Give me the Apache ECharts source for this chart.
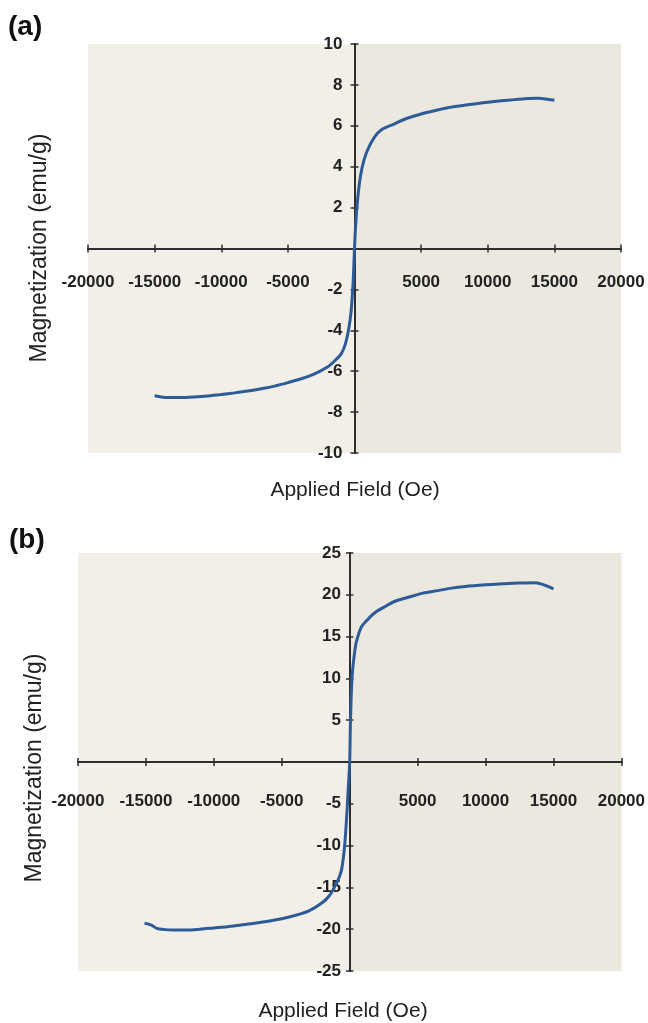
<!DOCTYPE html>
<html>
<head>
<meta charset="utf-8">
<script src="https://cdn.jsdelivr.net/npm/echarts@6/dist/echarts.min.js"></script>
<style>
  html, body { margin: 0; padding: 0; background: #ffffff; }
  #chart { width: 648px; height: 1023px; }
</style>
</head>
<body>
<div id="chart"></div>
<script>
// Panel (a): magnetization curve, field in Oe, magnetization in emu/g
const fieldA = [-15000, -14500, -14000, -13000, -12000, -11000, -10000, -9000, -8000, -7000,
  -6000, -5000, -4000, -3000, -2000, -1500, -1000, -700, -450, -250, -100, 0,
  100, 250, 450, 700, 1000, 1500, 2000, 3000, 4000, 5000, 6000, 7000, 8000, 9000,
  10000, 11000, 12000, 13000, 13800, 14500, 15000];
const magA = [-7.2, -7.26, -7.29, -7.29, -7.26, -7.21, -7.14, -7.06, -6.97, -6.86,
  -6.73, -6.56, -6.37, -6.13, -5.78, -5.5, -5.15, -4.7, -4.0, -3.05, -1.6, 0,
  1.3, 2.5, 3.55, 4.3, 4.85, 5.45, 5.8, 6.1, 6.38, 6.58, 6.74, 6.88, 6.98, 7.07,
  7.15, 7.22, 7.28, 7.33, 7.35, 7.3, 7.25];

// Panel (b)
const fieldB = [-15100, -14600, -14200, -13600, -13000, -12000, -11000, -10000, -9000, -8000,
  -7000, -6000, -5000, -4000, -3000, -2000, -1500, -1100, -800, -600, -400, -250, -100, 0,
  60, 180, 420, 600, 880, 1300, 1800, 2500, 3300, 4300, 5400, 6500, 7500, 8500,
  10000, 11000, 12400, 13600, 14200, 14600, 15000];
const magB = [-19.3, -19.5, -19.9, -20.05, -20.1, -20.1, -20.0, -19.85, -19.7, -19.5,
  -19.3, -19.05, -18.75, -18.35, -17.8, -16.8, -16.0, -14.9, -13.9, -12.9, -10.5, -7.3, -3.0, 0,
  5.0, 10.2, 13.8, 15.0, 16.2, 17.0, 17.8, 18.5, 19.2, 19.7, 20.2, 20.5, 20.8, 21.0,
  21.2, 21.3, 21.4, 21.45, 21.25, 21.0, 20.7];

// Axis ranges and tick steps
const fieldMin = -20000, fieldMax = 20000, fieldStep = 5000;
const magARange = [-10, 10], magAStep = 2;
const magBRange = [-25, 25], magBStep = 5;

const panelLabels = ['(a)', '(b)'];
const xTitle = 'Applied Field (Oe)';
const yTitle = 'Magnetization (emu/g)';

const axisColor = '#2e2e2e';
const lineColor = '#2c5b98';
const labelFont = { fontFamily: 'Liberation Sans, Arial, sans-serif', fontWeight: 'bold', fontSize: 17, color: '#222222' };
const hideZero = v => (v === 0 ? '' : String(v));

const grids = [
  { left: 88, top: 44, width: 533, height: 409 },
  { left: 78, top: 553, width: 544, height: 418 }
];

function pairs(xs, ys) { return xs.map((x, i) => [x, ys[i]]); }

const xAxes = [], yAxes = [], series = [];
const panels = [
  { grid: 0, range: magARange, step: magAStep, data: pairs(fieldA, magA), xMargin: 25, yMargin: 12 },
  { grid: 1, range: magBRange, step: magBStep, data: pairs(fieldB, magB), xMargin: 31, yMargin: 9 }
];

// Both ranges are symmetric about zero, so the axes cross at the grid centre:
// each axis is pulled inward from its edge by half the grid size.
function axisPair(dim, p, g) {
  const isX = dim === 'x';
  const shift = -(isX ? g.height : g.width) / 2;
  const common = {
    type: 'value', gridIndex: p.grid, z: 3,
    min: isX ? fieldMin : p.range[0],
    max: isX ? fieldMax : p.range[1],
    interval: isX ? fieldStep : p.step,
    offset: shift,
    axisLine: { show: true, onZero: false, lineStyle: { color: axisColor, width: 2 } },
    axisTick: { show: true, length: 4, lineStyle: { color: axisColor, width: 1.5 } },
    splitLine: { show: false }
  };
  const main = Object.assign({}, common, {
    position: isX ? 'bottom' : 'left',
    axisLabel: Object.assign({ margin: isX ? p.xMargin : p.yMargin, formatter: hideZero }, labelFont)
  });
  // twin axis on the opposite side so the tick marks cross the line
  const twin = Object.assign({}, common, {
    position: isX ? 'top' : 'right',
    axisLabel: { show: false }
  });
  return [main, twin];
}

panels.forEach(p => {
  const g = grids[p.grid];
  const xi = xAxes.length, yi = yAxes.length;
  xAxes.push(...axisPair('x', p, g));
  yAxes.push(...axisPair('y', p, g));
  // slightly darker shading over the positive-field half of the plot
  series.push({
    type: 'line', xAxisIndex: xi, yAxisIndex: yi, data: [], z: 1, silent: true,
    markArea: {
      silent: true,
      itemStyle: { color: '#ebe8df' },
      data: [[{ coord: [0, p.range[0]] }, { coord: [fieldMax, p.range[1]] }]]
    }
  });
  series.push({
    type: 'line', xAxisIndex: xi, yAxisIndex: yi, data: p.data,
    showSymbol: false, smooth: 0.3,
    lineStyle: { color: lineColor, width: 3 },
    z: 5
  });
});

const textStyleTitle = { fontFamily: 'Liberation Sans, Arial, sans-serif', fontSize: 21, fill: '#222222' };
const graphics = [
  { type: 'text', left: 8, top: 13, style: { text: panelLabels[0], font: 'bold 28px "Liberation Sans", Arial, sans-serif', fill: '#111111' } },
  { type: 'text', left: 9, top: 526, style: { text: panelLabels[1], font: 'bold 28px "Liberation Sans", Arial, sans-serif', fill: '#111111' } },
  { type: 'text', x: 355, y: 490, style: Object.assign({ text: xTitle, textAlign: 'center', textVerticalAlign: 'middle' }, textStyleTitle) },
  { type: 'text', x: 343, y: 1011, style: Object.assign({ text: xTitle, textAlign: 'center', textVerticalAlign: 'middle' }, textStyleTitle) },
  { type: 'text', x: 40, y: 248, rotation: Math.PI / 2, style: Object.assign({ text: yTitle, textAlign: 'center', textVerticalAlign: 'middle' }, textStyleTitle, { fontSize: 23 }) },
  { type: 'text', x: 35, y: 768, rotation: Math.PI / 2, style: Object.assign({ text: yTitle, textAlign: 'center', textVerticalAlign: 'middle' }, textStyleTitle, { fontSize: 23 }) }
];

const chart = echarts.init(document.getElementById('chart'), null, { renderer: 'canvas' });
chart.setOption({
  backgroundColor: '#ffffff',
  animation: false,
  grid: grids.map(g => Object.assign({ show: true, backgroundColor: '#f1efe7', borderWidth: 0 }, g)),
  xAxis: xAxes,
  yAxis: yAxes,
  series: series,
  graphic: graphics
});
</script>
</body>
</html>
